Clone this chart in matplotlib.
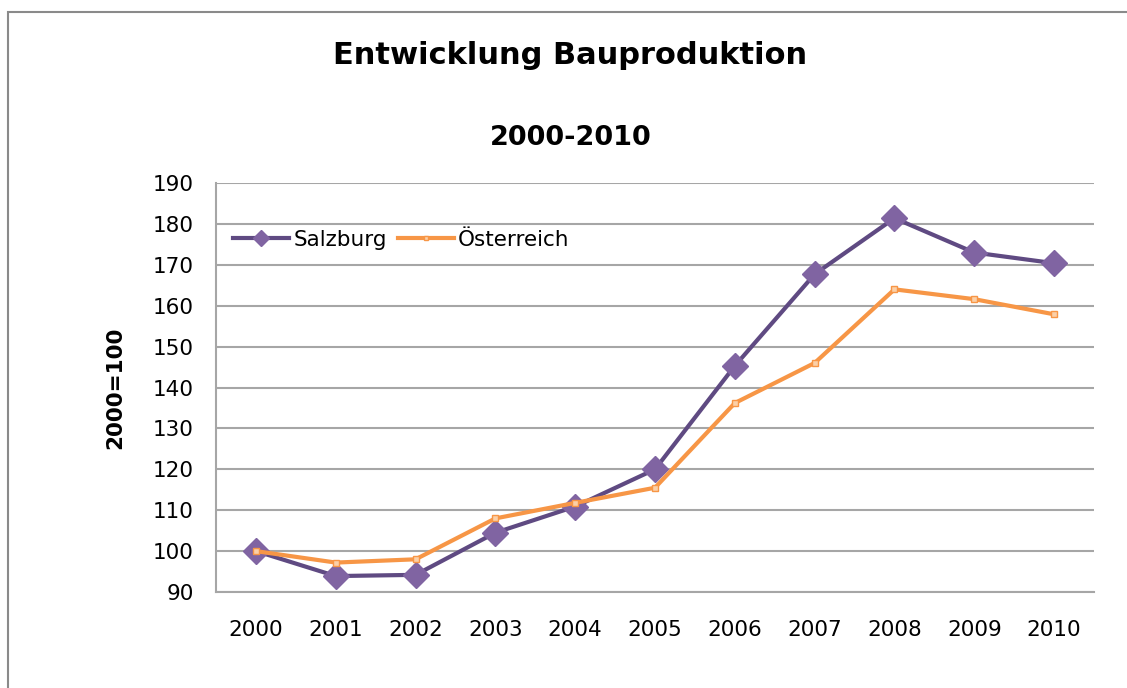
import matplotlib.pyplot as plt
from matplotlib.patches import Rectangle

jahre = ["2000", "2001", "2002", "2003", "2004", "2005", "2006", "2007", "2008", "2009", "2010"]
salzburg = [100, 93.9, 94.2, 104.5, 110.9, 120, 145.3, 167.7, 181.4, 173, 170.4]
oesterreich = [100, 97.2, 98, 108, 111.8, 115.5, 136.2, 146, 164, 161.6, 157.9]
y_ticks = [90, 100, 110, 120, 130, 140, 150, 160, 170, 180, 190]

plt.rcParams['font.family'] = ['DejaVu Sans']

fig = plt.figure(figsize=(11.27, 6.88), dpi=100)
ax = fig.add_axes([0.1917, 0.1395, 0.779, 0.5945])

# Rahmen um das Diagramm (rechts/unten abgeschnitten)
fig.patches.append(Rectangle((8 / 1127, -0.1), 1.2, 1.1 - 12 / 688, transform=fig.transFigure,
                             fill=False, edgecolor="#8a8a8a", linewidth=1.5))

x = range(len(jahre))
ax.plot(x, salzburg, color="#5f4a82", linewidth=3, marker="D", markersize=13,
        markerfacecolor="#8064a2", markeredgecolor="#8064a2", label="Salzburg", zorder=3)
ax.plot(x, oesterreich, color="#f79646", linewidth=3, marker="s", markersize=5,
        markerfacecolor="#fbd0a8", markeredgecolor="#f79646", label="Österreich", zorder=4)

ax.set_xlim(-0.5, len(jahre) - 0.5)
ax.set_ylim(90, 190)
ax.set_yticks(y_ticks)
ax.set_xticks(list(x))
ax.set_xticklabels(jahre)
ax.tick_params(axis="both", length=0, labelsize=15.5)
ax.tick_params(axis="x", pad=20)
ax.tick_params(axis="y", pad=16)
ax.grid(axis="y", color="#a6a6a6", linewidth=1.5)
ax.set_axisbelow(True)
for s in ["top", "right"]:
    ax.spines[s].set_visible(False)
for s in ["left", "bottom"]:
    ax.spines[s].set_color("#a6a6a6")
    ax.spines[s].set_linewidth(1.5)

ax.set_ylabel("2000=100", fontsize=15.5, fontweight="bold", labelpad=20)

fig.text(0.506, 0.92, "Entwicklung Bauproduktion", ha="center", va="center",
         fontsize=22, fontweight="bold")
fig.text(0.506, 0.80, "2000-2010", ha="center", va="center",
         fontsize=19.5, fontweight="bold")

ax.legend(loc="center left", bbox_to_anchor=(0.0, 0.861), ncol=2, frameon=False,
          fontsize=15.5, handlelength=2.6, handletextpad=0.2, columnspacing=0.5,
          borderaxespad=0.4, markerscale=0.6)

fig.savefig("out.png", dpi=100)
